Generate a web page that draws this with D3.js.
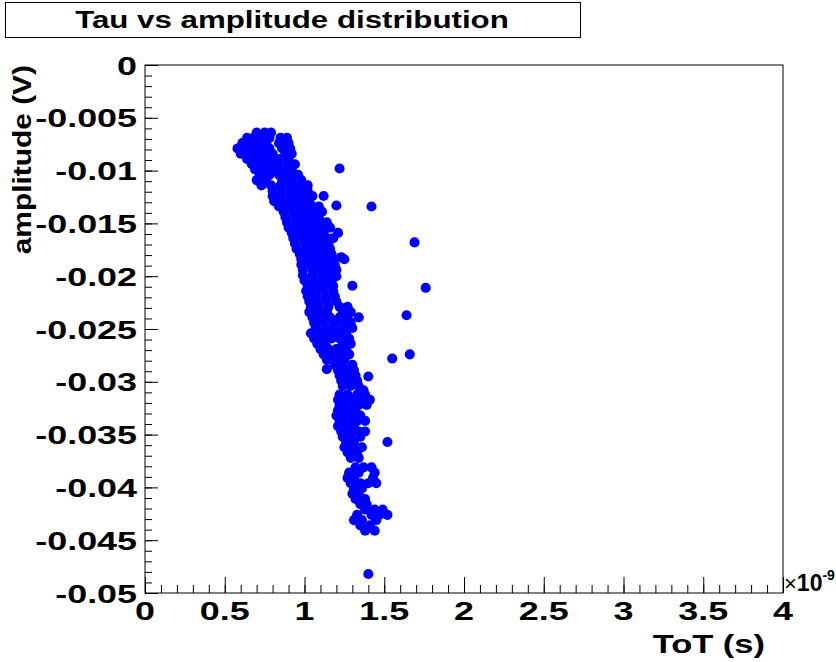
<!DOCTYPE html>
<html>
<head>
<meta charset="utf-8">
<script src="https://cdn.jsdelivr.net/npm/d3@7"></script>
<style>
  body { margin: 0; background: #fff; }
  text { font-family: "Liberation Sans", Arial, Helvetica, sans-serif; font-weight: bold; fill: #000; }
</style>
</head>
<body>
<div id="chart"></div>
<script>
// ToT in units of 1e-9 s, amplitude in V ([tot, amp])
var topCluster = [
  [0.70,-0.0064],[0.75,-0.0064],[0.79,-0.0064],
  [0.64,-0.0069],[0.68,-0.0069],[0.73,-0.0069],[0.78,-0.0069],[0.85,-0.0069],[0.89,-0.0069],
  [0.61,-0.0074],[0.66,-0.0074],[0.71,-0.0074],[0.76,-0.0074],[0.84,-0.0074],[0.90,-0.0074],
  [0.58,-0.0079],[0.63,-0.0079],[0.68,-0.0079],[0.73,-0.0079],[0.78,-0.0079],[0.86,-0.0079],[0.91,-0.0079],
  [0.60,-0.0084],[0.65,-0.0084],[0.70,-0.0084],[0.75,-0.0084],[0.80,-0.0084],[0.88,-0.0084],[0.92,-0.0084],
  [0.64,-0.0089],[0.69,-0.0089],[0.74,-0.0089],[0.79,-0.0089],[0.84,-0.0089],[0.90,-0.0089],
  [0.67,-0.0094],[0.72,-0.0094],[0.77,-0.0094],[0.83,-0.0094],[0.89,-0.0094],[0.94,-0.0094],
  [0.69,-0.0099],[0.74,-0.0099],[0.80,-0.0099],[0.86,-0.0099],[0.92,-0.0099],
  [0.72,-0.0104],[0.78,-0.0104],[0.84,-0.0104],[0.90,-0.0104],[0.96,-0.0104],
  [0.70,-0.0109],[0.76,-0.0109],[0.86,-0.0109],[0.92,-0.0109],[0.98,-0.0109],
  [0.73,-0.0114],[0.79,-0.0114],[0.85,-0.0114],[0.91,-0.0114],[0.97,-0.0114],[1.02,-0.0114],
  [0.80,-0.0119],[0.86,-0.0119],[0.92,-0.0119],[0.97,-0.0119],[1.02,-0.0119]
];

var band = [
  [0.80,-0.0124],[0.85,-0.0124],[0.91,-0.0124],[0.96,-0.0124],[1.01,-0.0124],[1.05,-0.0124],
  [0.81,-0.0129],[0.87,-0.0129],[0.93,-0.0129],[0.98,-0.0129],[1.03,-0.0129],
  [0.84,-0.0134],[0.90,-0.0134],[0.95,-0.0134],[1.00,-0.0134],[1.05,-0.0134],[1.09,-0.0134],
  [0.87,-0.0139],[0.93,-0.0139],[0.98,-0.0139],[1.03,-0.0139],[1.08,-0.0139],[1.11,-0.0139],
  [0.88,-0.0144],[0.94,-0.0144],[0.99,-0.0144],[1.04,-0.0144],[1.09,-0.0144],
  [0.89,-0.0149],[0.95,-0.0149],[1.00,-0.0149],[1.05,-0.0149],[1.10,-0.0149],[1.14,-0.0149],
  [0.90,-0.0154],[0.96,-0.0154],[1.01,-0.0154],[1.06,-0.0154],[1.11,-0.0154],[1.16,-0.0154],
  [0.92,-0.0159],[0.97,-0.0159],[1.02,-0.0159],[1.07,-0.0159],[1.12,-0.0159],
  [0.93,-0.0164],[0.99,-0.0164],[1.04,-0.0164],[1.09,-0.0164],[1.14,-0.0164],[1.18,-0.0164],
  [0.94,-0.0169],[1.00,-0.0169],[1.05,-0.0169],[1.10,-0.0169],[1.15,-0.0169],
  [0.95,-0.0174],[1.01,-0.0174],[1.06,-0.0174],[1.11,-0.0174],[1.16,-0.0174],
  [0.97,-0.0179],[1.02,-0.0179],[1.07,-0.0179],[1.12,-0.0179],[1.17,-0.0179],
  [0.98,-0.0184],[1.03,-0.0184],[1.08,-0.0184],[1.13,-0.0184],[1.18,-0.0184],[1.25,-0.0184],
  [0.98,-0.0189],[1.04,-0.0189],[1.09,-0.0189],[1.14,-0.0189],[1.19,-0.0189],
  [0.99,-0.0194],[1.05,-0.0194],[1.10,-0.0194],[1.15,-0.0194],[1.20,-0.0194],
  [0.99,-0.0199],[1.05,-0.0199],[1.11,-0.0199],[1.16,-0.0199],
  [1.00,-0.0204],[1.06,-0.0204],[1.12,-0.0204],[1.17,-0.0204],
  [1.02,-0.0209],[1.08,-0.0209],[1.13,-0.0209],[1.18,-0.0209],
  [1.01,-0.0214],[1.06,-0.0214],[1.12,-0.0214],[1.18,-0.0214],
  [1.02,-0.0219],[1.07,-0.0219],[1.13,-0.0219],[1.19,-0.0219],
  [1.03,-0.0224],[1.08,-0.0224],[1.14,-0.0224],[1.20,-0.0224],
  [1.04,-0.0229],[1.09,-0.0229],[1.15,-0.0229],[1.22,-0.0229],[1.27,-0.0229],
  [1.03,-0.0234],[1.08,-0.0234],[1.14,-0.0234],[1.24,-0.0234],[1.29,-0.0234],
  [1.05,-0.0239],[1.10,-0.0239],[1.16,-0.0239],[1.22,-0.0239],[1.27,-0.0239],
  [1.06,-0.0244],[1.12,-0.0244],[1.18,-0.0244],[1.24,-0.0244],[1.29,-0.0244],
  [1.07,-0.0249],[1.13,-0.0249],[1.19,-0.0249],[1.25,-0.0249],[1.30,-0.0249],
  [1.04,-0.0254],[1.09,-0.0254],[1.15,-0.0254],[1.21,-0.0254],[1.26,-0.0254],
  [1.06,-0.0259],[1.11,-0.0259],[1.17,-0.0259],[1.22,-0.0259],[1.28,-0.0259],
  [1.08,-0.0264],[1.13,-0.0264],[1.24,-0.0264],[1.29,-0.0264],
  [1.10,-0.0269],[1.15,-0.0269],[1.20,-0.0269],[1.26,-0.0269],
  [1.12,-0.0274],[1.17,-0.0274],[1.22,-0.0274],[1.28,-0.0274],
  [1.14,-0.0279],[1.20,-0.0279],[1.25,-0.0279],
  [1.19,-0.0284],[1.24,-0.0284],[1.30,-0.0284],
  [1.21,-0.0289],[1.26,-0.0289],[1.31,-0.0289],
  [1.22,-0.0294],[1.27,-0.0294],[1.32,-0.0294],
  [1.23,-0.0299],[1.28,-0.0299],[1.33,-0.0299],
  [1.24,-0.0304],[1.29,-0.0304],[1.34,-0.0304]
];

var tail = [
  [1.22,-0.0312],[1.27,-0.0312],[1.33,-0.0312],[1.38,-0.0312],
  [1.21,-0.0317],[1.26,-0.0317],[1.31,-0.0317],[1.36,-0.0317],[1.41,-0.0317],
  [1.22,-0.0322],[1.28,-0.0322],[1.34,-0.0322],[1.39,-0.0322],
  [1.21,-0.0327],[1.26,-0.0327],[1.32,-0.0327],
  [1.20,-0.0332],[1.25,-0.0332],[1.30,-0.0332],[1.35,-0.0332],
  [1.22,-0.0337],[1.27,-0.0337],[1.33,-0.0337],[1.38,-0.0337],
  [1.21,-0.0342],[1.26,-0.0342],[1.31,-0.0342],
  [1.23,-0.0347],[1.28,-0.0347],[1.34,-0.0347],[1.38,-0.0347],
  [1.24,-0.0352],[1.29,-0.0352],[1.35,-0.0352],
  [1.26,-0.0357],[1.31,-0.0357],
  [1.25,-0.0362],[1.30,-0.0362],[1.36,-0.0362],
  [1.27,-0.0367],[1.33,-0.0367],
  [1.29,-0.0372],[1.34,-0.0372],
  [1.32,-0.0381],[1.37,-0.0381],[1.42,-0.0381],
  [1.28,-0.0386],[1.34,-0.0386],[1.44,-0.0386],
  [1.27,-0.0391],[1.31,-0.0391],[1.43,-0.0391],
  [1.29,-0.0396],[1.35,-0.0396],[1.40,-0.0396],[1.45,-0.0396],
  [1.31,-0.0401],[1.36,-0.0401],
  [1.30,-0.0406],[1.34,-0.0406],
  [1.32,-0.0411],[1.38,-0.0411],
  [1.35,-0.0416],[1.39,-0.0416],
  [1.38,-0.0421],[1.44,-0.0421],[1.49,-0.0421],
  [1.33,-0.0426],[1.42,-0.0426],[1.47,-0.0426],[1.52,-0.0426],
  [1.31,-0.0431],[1.36,-0.0431],[1.45,-0.0431],
  [1.35,-0.0436],[1.41,-0.0436],
  [1.38,-0.0441],[1.44,-0.0441]
];

var outliers = [
  [1.22,-0.0098],[1.12,-0.0124],[1.20,-0.0133],[1.42,-0.0134],[1.21,-0.0159],
  [1.23,-0.0182],[1.69,-0.0168],[1.20,-0.0200],[1.30,-0.0209],[1.76,-0.0211],
  [1.34,-0.0239],[1.64,-0.0237],[1.66,-0.0274],[1.55,-0.0278],[1.14,-0.0288],
  [1.40,-0.0295],[1.37,-0.0308],[1.52,-0.0357],[1.40,-0.0482]
];

var xTicks = [0, 0.5, 1, 1.5, 2, 2.5, 3, 3.5, 4];
var xTickLabels = ["0", "0.5", "1", "1.5", "2", "2.5", "3", "3.5", "4"];
var yTicks = [0, -0.005, -0.01, -0.015, -0.02, -0.025, -0.03, -0.035, -0.04, -0.045, -0.05];
var yTickLabels = ["0", "-0.005", "-0.01", "-0.015", "-0.02", "-0.025", "-0.03", "-0.035", "-0.04", "-0.045", "-0.05"];

var width = 836, height = 662;
var frame = {left: 145, right: 783, top: 65, bottom: 593};
var stretch = 1.38; // the reference's bold font is wider than Helvetica

var svg = d3.select("#chart")
  .append("svg")
    .attr("width", width)
    .attr("height", height);

var x = d3.scaleLinear().domain([0, 4]).range([frame.left, frame.right]);
var y = d3.scaleLinear().domain([-0.05, 0]).range([frame.bottom, frame.top]);

// title box
svg.append("rect")
  .attr("x", 5.5).attr("y", 2.5)
  .attr("width", 575).attr("height", 35)
  .attr("fill", "#fff").attr("stroke", "#000").attr("stroke-width", 1);
svg.append("text")
  .attr("transform", "translate(292,28) scale(1.36,1)")
  .attr("text-anchor", "middle")
  .style("font-size", "23px")
  .text("Tau vs amplitude distribution");

// frame
svg.append("rect")
  .attr("x", frame.left).attr("y", frame.top)
  .attr("width", frame.right - frame.left).attr("height", frame.bottom - frame.top)
  .attr("fill", "none").attr("stroke", "#000").attr("stroke-width", 1);

// minor ticks
svg.append("g")
  .attr("transform", "translate(0," + frame.bottom + ")")
  .call(d3.axisBottom(x).tickValues(x.ticks(40)).tickSize(-8).tickFormat(""))
  .call(function(g) { g.select(".domain").remove(); });
svg.append("g")
  .attr("transform", "translate(" + frame.left + ",0)")
  .call(d3.axisLeft(y).tickValues(y.ticks(50)).tickSize(-7).tickFormat(""))
  .call(function(g) { g.select(".domain").remove(); });

// major ticks
var xAxis = svg.append("g")
  .attr("transform", "translate(0," + frame.bottom + ")")
  .call(d3.axisBottom(x).tickValues(xTicks).tickSize(-16).tickFormat(""));
xAxis.select(".domain").remove();
var yAxis = svg.append("g")
  .attr("transform", "translate(" + frame.left + ",0)")
  .call(d3.axisLeft(y).tickValues(yTicks).tickSize(-13).tickFormat(""));
yAxis.select(".domain").remove();
svg.selectAll(".tick line").attr("stroke", "#000");

// tick labels
svg.selectAll(".xlab")
  .data(xTicks)
  .enter().append("text")
    .attr("class", "xlab")
    .attr("transform", function(d) { return "translate(" + x(d) + ",620) scale(" + stretch + ",1)"; })
    .attr("text-anchor", "middle")
    .style("font-size", "26px")
    .text(function(d, i) { return xTickLabels[i]; });

svg.selectAll(".ylab")
  .data(yTicks)
  .enter().append("text")
    .attr("class", "ylab")
    .attr("transform", function(d) { return "translate(137," + (y(d) + 9.5) + ") scale(" + stretch + ",1)"; })
    .attr("text-anchor", "end")
    .style("font-size", "26px")
    .text(function(d, i) { return yTickLabels[i]; });

// axis titles
svg.append("text")
  .attr("transform", "translate(765,653) scale(" + stretch + ",1)")
  .attr("text-anchor", "end")
  .style("font-size", "25px")
  .text("ToT (s)");

svg.append("text")
  .attr("transform", "translate(31,65) rotate(-90) scale(1.15,1)")
  .attr("text-anchor", "end")
  .style("font-size", "26px")
  .text("amplitude (V)");

// exponent label
var expo = svg.append("text")
  .attr("transform", "translate(784,591)")
  .style("font-size", "23px");
expo.append("tspan").style("font-weight", "normal").style("font-size", "22px").text("\u00d7");
expo.append("tspan").text("10");
expo.append("tspan").attr("dy", -11).style("font-size", "14px").text("-9");

// markers
var points = topCluster.concat(band, tail, outliers);
svg.append("g")
  .selectAll("path")
  .data(points)
  .enter().append("path")
    .attr("transform", function(d) { return "translate(" + x(d[0]) + "," + y(d[1]) + ")"; })
    .attr("d", d3.symbol().type(d3.symbolCircle).size(80))
    .attr("fill", "#0000ff");
</script>
</body>
</html>
